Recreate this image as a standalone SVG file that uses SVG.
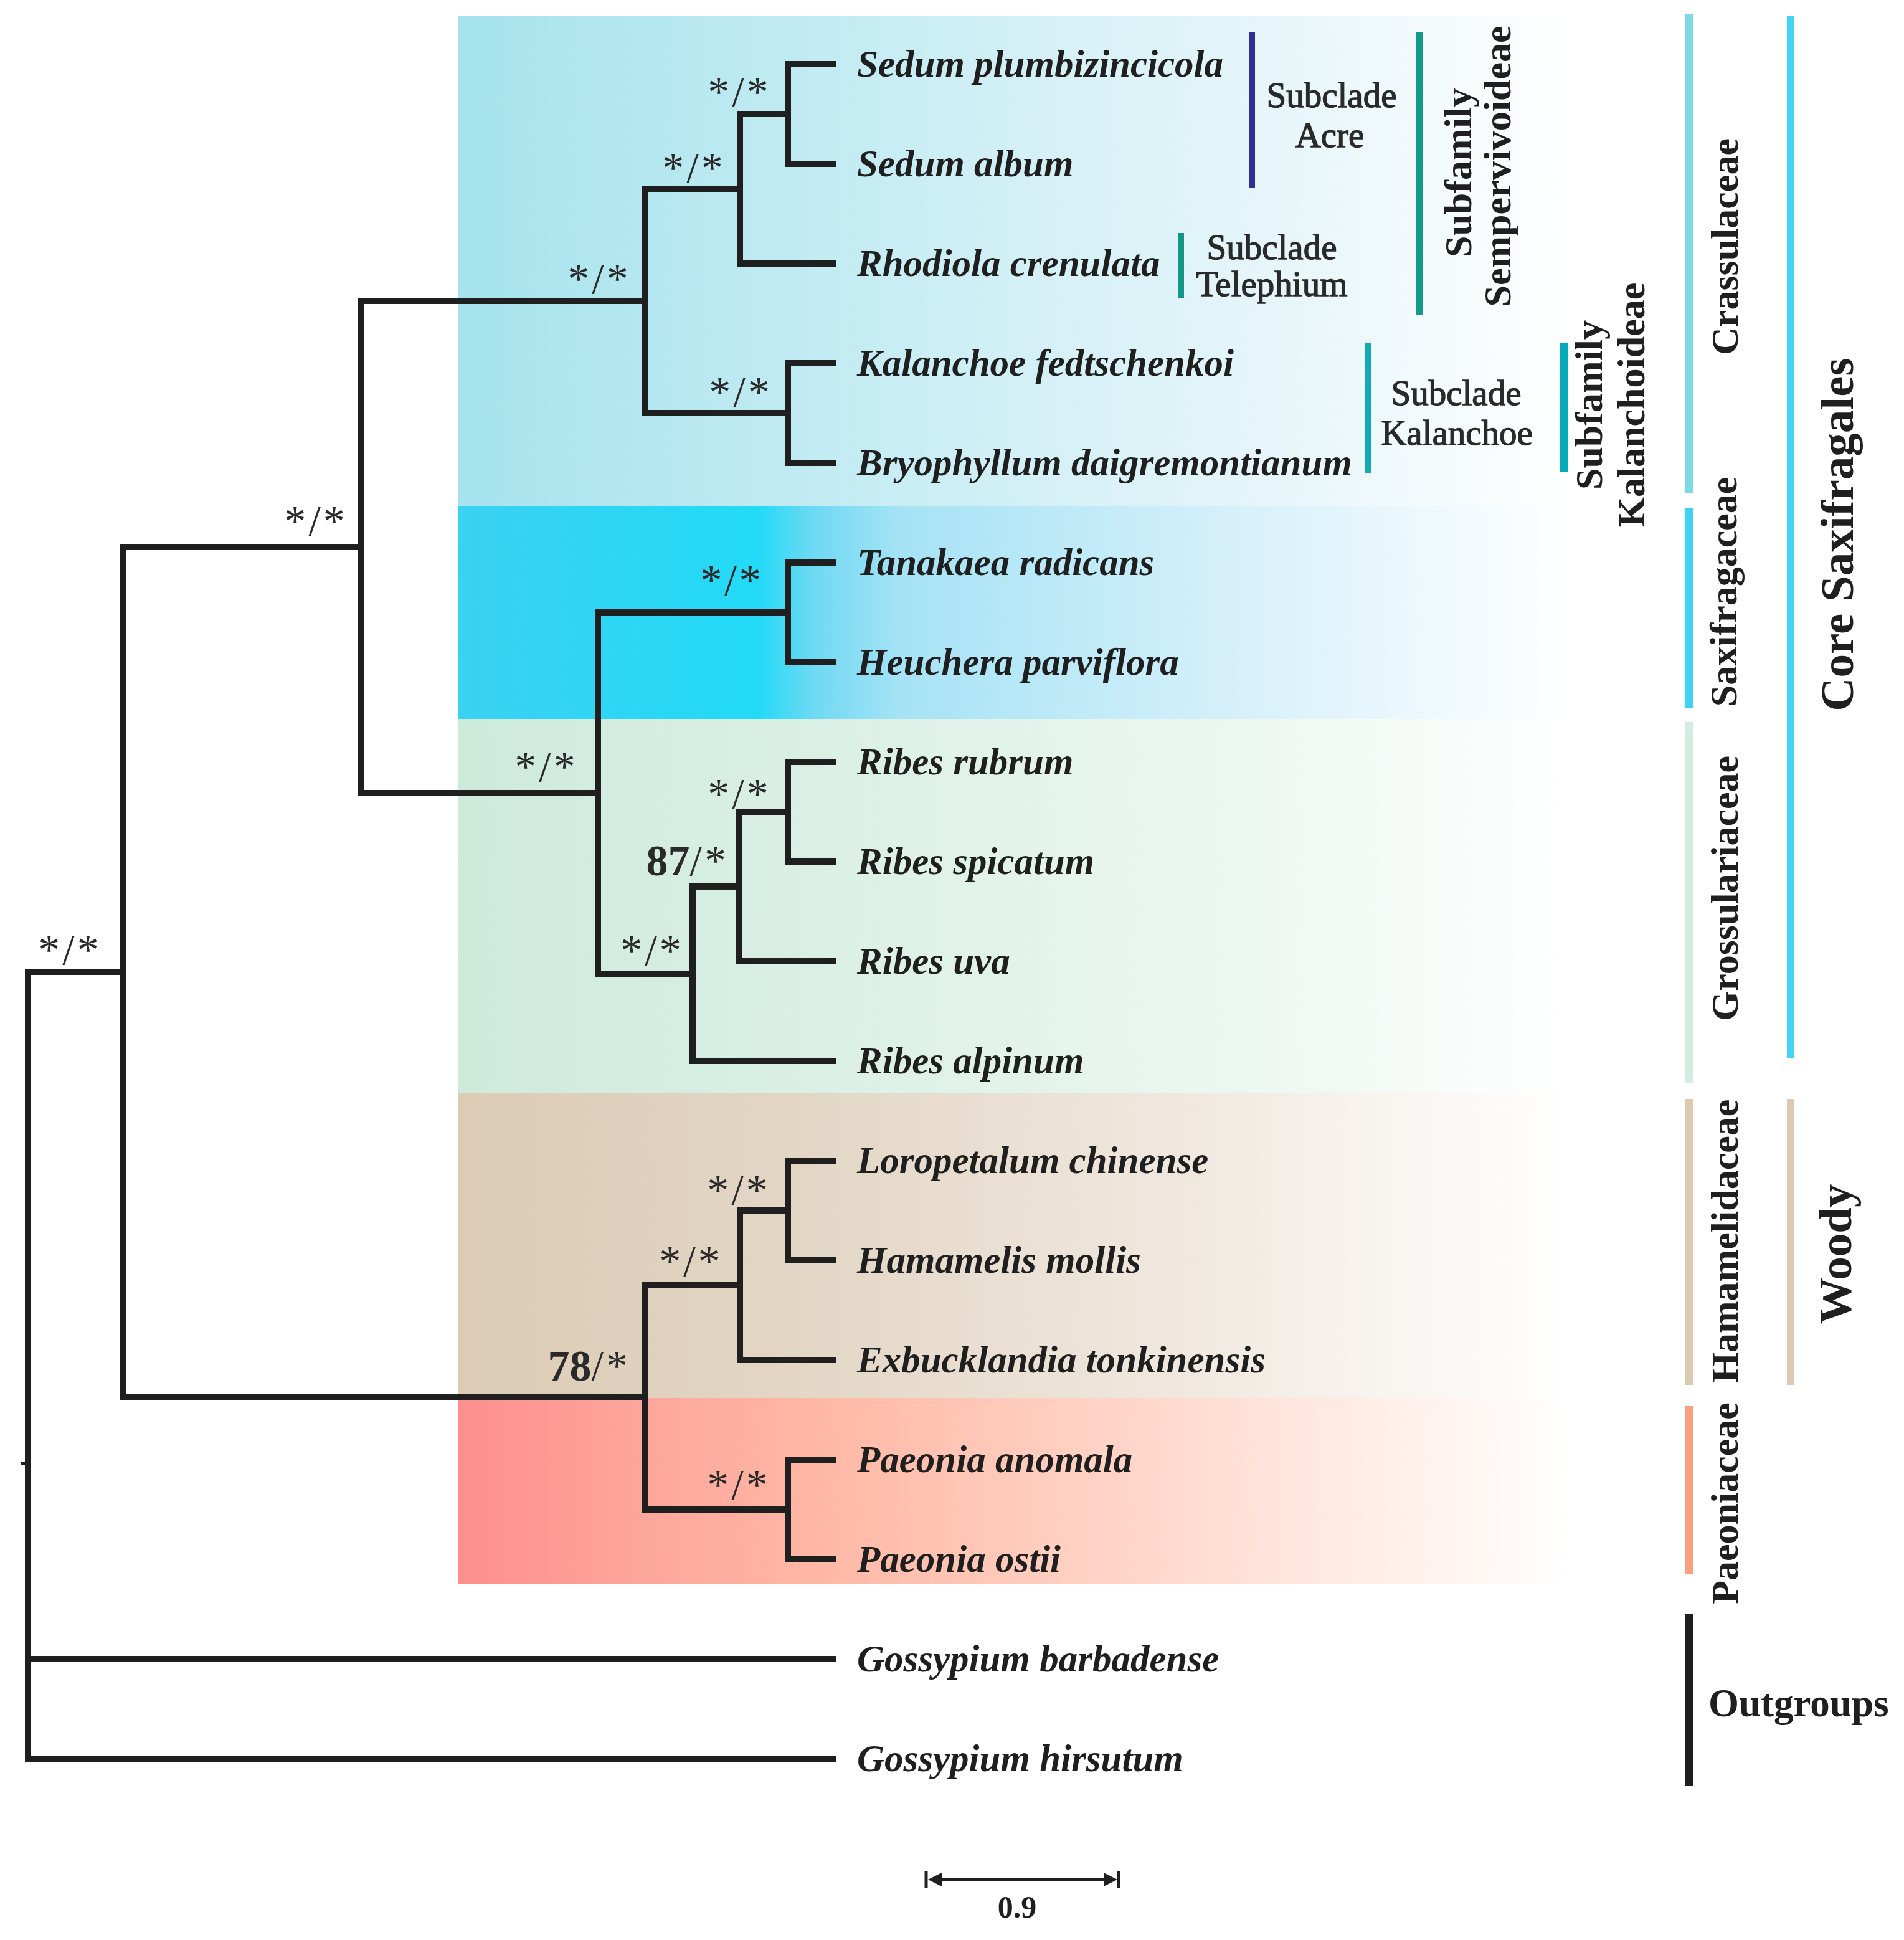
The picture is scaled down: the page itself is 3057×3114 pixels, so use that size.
<svg xmlns="http://www.w3.org/2000/svg" width="3057" height="3114" viewBox="0 0 3057 3114">
<defs>
<style>
.br{fill:none;stroke:#1f1f1f;stroke-width:10;stroke-linejoin:miter;stroke-linecap:butt}
.leaf{font-family:"Liberation Serif","Times New Roman",serif;font-size:61px;font-weight:bold;font-style:italic;fill:#1f1f1f}
.sup{font-family:"Liberation Serif","Times New Roman",serif;font-size:70px;fill:#2a2a2a;letter-spacing:4px}
.sub{font-family:"Liberation Serif","Times New Roman",serif;font-size:57px;fill:#2a2a2a;stroke:#2a2a2a;stroke-width:1.3px;text-anchor:middle}
.fam{font-family:"Liberation Serif","Times New Roman",serif;font-size:62px;font-weight:bold;fill:#1f1f1f;text-anchor:middle}
.big{font-size:75px}
</style>
<linearGradient id="gCr" gradientUnits="userSpaceOnUse" x1="735" y1="0" x2="2520" y2="0">
<stop offset="0" stop-color="#a6e3ed"/><stop offset="0.4" stop-color="#c9edf4"/><stop offset="0.75" stop-color="#e8f6fa"/><stop offset="1" stop-color="#ffffff"/>
</linearGradient>
<linearGradient id="gSx" gradientUnits="userSpaceOnUse" x1="735" y1="0" x2="2520" y2="0">
<stop offset="0" stop-color="#3bd1f2"/><stop offset="0.27" stop-color="#22daf7"/><stop offset="0.32" stop-color="#6fd9f3"/><stop offset="0.4" stop-color="#a6e3f5"/><stop offset="0.7" stop-color="#d6f0fa"/><stop offset="1" stop-color="#ffffff"/>
</linearGradient>
<linearGradient id="gGr" gradientUnits="userSpaceOnUse" x1="735" y1="0" x2="2520" y2="0">
<stop offset="0" stop-color="#cdeadb"/><stop offset="0.45" stop-color="#e0f2e9"/><stop offset="0.75" stop-color="#eff8f3"/><stop offset="1" stop-color="#ffffff"/>
</linearGradient>
<linearGradient id="gHa" gradientUnits="userSpaceOnUse" x1="735" y1="0" x2="2520" y2="0">
<stop offset="0" stop-color="#dccbb5"/><stop offset="0.35" stop-color="#e4d8c8"/><stop offset="0.65" stop-color="#f0e8df"/><stop offset="1" stop-color="#ffffff"/>
</linearGradient>
<linearGradient id="gPa" gradientUnits="userSpaceOnUse" x1="735" y1="0" x2="2520" y2="0">
<stop offset="0" stop-color="#fe8e8e"/><stop offset="0.15" stop-color="#fda49a"/><stop offset="0.33" stop-color="#ffb8a6"/><stop offset="0.6" stop-color="#ffd5c8"/><stop offset="0.8" stop-color="#ffebe4"/><stop offset="1" stop-color="#ffffff"/>
</linearGradient>
</defs>
<rect x="0" y="0" width="3057" height="3114" fill="#ffffff"/>
<g id="bands">
<rect id="band-crassulaceae" x="735" y="25" width="1785" height="788" fill="url(#gCr)"/>
<rect id="band-saxifragaceae" x="735" y="812" width="1785" height="343" fill="url(#gSx)"/>
<rect id="band-grossulariaceae" x="735" y="1154" width="1785" height="602" fill="url(#gGr)"/>
<rect id="band-hamamelidaceae" x="735" y="1755" width="1785" height="490" fill="url(#gHa)"/>
<rect id="band-paeoniaceae" x="735" y="2244" width="1785" height="298" fill="url(#gPa)"/>
</g>
<g id="connectors">
<path class="br" d="M198 1560 H45 V2823 H1342 M45 2663 H1342"/>
<path class="br" d="M34 2349 H45" style="stroke-width:6"/>
<path class="br" d="M579 878 H198 V2243 H1035"/>
<path class="br" d="M1036 483 H579 V1273 H960"/>
<path class="br" d="M1188 303 H1036 V663 H1265"/>
<path class="br" d="M1265 183 H1188 V423 H1342"/>
<path class="br" d="M1342 103 H1265 V263 H1342"/>
<path class="br" d="M1342 583 H1265 V743 H1342"/>
<path class="br" d="M1265 983 H960 V1563 H1112"/>
<path class="br" d="M1342 903 H1265 V1063 H1342"/>
<path class="br" d="M1187 1423 H1112 V1703 H1342"/>
<path class="br" d="M1265 1303 H1187 V1543 H1342"/>
<path class="br" d="M1342 1223 H1265 V1383 H1342"/>
<path class="br" d="M1188 2063 H1035 V2423 H1265"/>
<path class="br" d="M1265 1943 H1188 V2183 H1342"/>
<path class="br" d="M1342 1863 H1265 V2023 H1342"/>
<path class="br" d="M1342 2343 H1265 V2503 H1342"/>
</g>
<g id="leaves">
<g id="leaf-sedum-plumbizincicola"><text class="leaf" x="1376" y="123">Sedum plumbizincicola</text></g>
<g id="leaf-sedum-album"><text class="leaf" x="1376" y="283">Sedum album</text></g>
<g id="leaf-rhodiola-crenulata"><text class="leaf" x="1376" y="443">Rhodiola crenulata</text></g>
<g id="leaf-kalanchoe-fedtschenkoi"><text class="leaf" x="1376" y="603">Kalanchoe fedtschenkoi</text></g>
<g id="leaf-bryophyllum-daigremontianum"><text class="leaf" x="1376" y="763">Bryophyllum daigremontianum</text></g>
<g id="leaf-tanakaea-radicans"><text class="leaf" x="1376" y="923">Tanakaea radicans</text></g>
<g id="leaf-heuchera-parviflora"><text class="leaf" x="1376" y="1083">Heuchera parviflora</text></g>
<g id="leaf-ribes-rubrum"><text class="leaf" x="1376" y="1243">Ribes rubrum</text></g>
<g id="leaf-ribes-spicatum"><text class="leaf" x="1376" y="1403">Ribes spicatum</text></g>
<g id="leaf-ribes-uva"><text class="leaf" x="1376" y="1563">Ribes uva</text></g>
<g id="leaf-ribes-alpinum"><text class="leaf" x="1376" y="1723">Ribes alpinum</text></g>
<g id="leaf-loropetalum-chinense"><text class="leaf" x="1376" y="1883">Loropetalum chinense</text></g>
<g id="leaf-hamamelis-mollis"><text class="leaf" x="1376" y="2043">Hamamelis mollis</text></g>
<g id="leaf-exbucklandia-tonkinensis"><text class="leaf" x="1376" y="2203">Exbucklandia tonkinensis</text></g>
<g id="leaf-paeonia-anomala"><text class="leaf" x="1376" y="2363">Paeonia anomala</text></g>
<g id="leaf-paeonia-ostii"><text class="leaf" x="1376" y="2523">Paeonia ostii</text></g>
<g id="leaf-gossypium-barbadense"><text class="leaf" x="1376" y="2683">Gossypium barbadense</text></g>
<g id="leaf-gossypium-hirsutum"><text class="leaf" x="1376" y="2843">Gossypium hirsutum</text></g>
</g>
<g id="supports">
<g id="sup-sedum"><text class="sup" x="1187" y="171" text-anchor="middle">*/*</text></g>
<g id="sup-sedum-rhodiola"><text class="sup" x="1114" y="293" text-anchor="middle">*/*</text></g>
<g id="sup-crassulaceae"><text class="sup" x="962" y="471" text-anchor="middle">*/*</text></g>
<g id="sup-kalanchoe"><text class="sup" x="1189" y="653" text-anchor="middle">*/*</text></g>
<g id="sup-crass-saxi"><text class="sup" x="507" y="860" text-anchor="middle">*/*</text></g>
<g id="sup-saxifragaceae"><text class="sup" x="1175" y="955" text-anchor="middle">*/*</text></g>
<g id="sup-saxi-gross"><text class="sup" x="877" y="1254" text-anchor="middle">*/*</text></g>
<g id="sup-ribes-rs"><text class="sup" x="1187" y="1298" text-anchor="middle">*/*</text></g>
<g id="sup-ribes-rsu"><text class="sup" x="1170" y="1405" text-anchor="end"><tspan style="font-weight:bold;letter-spacing:0">87</tspan>/*</text></g>
<g id="sup-ribes"><text class="sup" x="1047" y="1549" text-anchor="middle">*/*</text></g>
<g id="sup-ingroup"><text class="sup" x="112" y="1548" text-anchor="middle">*/*</text></g>
<g id="sup-loro-hama"><text class="sup" x="1186" y="1934" text-anchor="middle">*/*</text></g>
<g id="sup-hamamelidaceae"><text class="sup" x="1109" y="2048" text-anchor="middle">*/*</text></g>
<g id="sup-woody"><text class="sup" x="1012" y="2216" text-anchor="end"><tspan style="font-weight:bold;letter-spacing:0">78</tspan>/*</text></g>
<g id="sup-paeonia"><text class="sup" x="1186" y="2407" text-anchor="middle">*/*</text></g>
</g>
<g id="clades">
<g id="clade-subclade-acre">
<rect x="2005" y="52" width="10" height="249" fill="#2e3192"/>
<text class="sub" x="2138" y="172">Subclade</text>
<text class="sub" x="2135" y="236">Acre</text>
</g>
<g id="clade-subclade-telephium">
<rect x="1891" y="374" width="10" height="104" fill="#139685"/>
<text class="sub" x="2042" y="416">Subclade</text>
<text class="sub" x="2042" y="475">Telephium</text>
</g>
<g id="clade-subfamily-sempervivoideae">
<rect x="2273" y="52" width="12" height="454" fill="#149a88"/>
<text class="fam" transform="translate(2362 277) rotate(-90)">Subfamily</text>
<text class="fam" transform="translate(2425 267) rotate(-90)">Sempervivoideae</text>
</g>
<g id="clade-subclade-kalanchoe">
<rect x="2192" y="551" width="10" height="209" fill="#15aab5"/>
<text class="sub" x="2338" y="650">Subclade</text>
<text class="sub" x="2339" y="714">Kalanchoe</text>
</g>
<g id="clade-subfamily-kalanchoideae">
<rect x="2505" y="551" width="12" height="207" fill="#05aab8"/>
<text class="fam" transform="translate(2572 650) rotate(-90)">Subfamily</text>
<text class="fam" transform="translate(2640 650) rotate(-90)">Kalanchoideae</text>
</g>
<g id="clade-crassulaceae">
<rect x="2706" y="23" width="12" height="769" fill="#7dd9e8"/>
<text class="fam" transform="translate(2790 396) rotate(-90)">Crassulaceae</text>
</g>
<g id="clade-saxifragaceae">
<rect x="2706" y="815" width="12" height="322" fill="#3dd3f7"/>
<text class="fam" transform="translate(2788 950) rotate(-90)">Saxifragaceae</text>
</g>
<g id="clade-grossulariaceae">
<rect x="2706" y="1159" width="12" height="580" fill="#d2eee0"/>
<text class="fam" transform="translate(2790 1426) rotate(-90)">Grossulariaceae</text>
</g>
<g id="clade-hamamelidaceae">
<rect x="2706" y="1764" width="12" height="459" fill="#dccab2"/>
<text class="fam" transform="translate(2790 1992) rotate(-90)">Hamamelidaceae</text>
</g>
<g id="clade-paeoniaceae">
<rect x="2706" y="2257" width="12" height="270" fill="#f9a07f"/>
<text class="fam" transform="translate(2790 2413) rotate(-90)">Paeoniaceae</text>
</g>
<g id="clade-outgroups">
<rect x="2706" y="2590" width="12" height="277" fill="#1f1f1f"/>
<text class="fam" x="2743" y="2755" style="text-anchor:start;font-size:63px">Outgroups</text>
</g>
<g id="clade-core-saxifragales">
<rect x="2869" y="25" width="12" height="1674" fill="#45d2f7"/>
<text class="fam big" transform="translate(2975 858) rotate(-90)">Core Saxifragales</text>
</g>
<g id="clade-woody">
<rect x="2869" y="1764" width="12" height="459" fill="#dccab2"/>
<text class="fam big" transform="translate(2972 2013) rotate(-90)">Woody</text>
</g>
</g>
<g id="scale-bar">
<line x1="1500" y1="3017" x2="1782" y2="3017" stroke="#1f1f1f" stroke-width="5"/>
<path d="M1490 3017 L1512 3006 L1512 3028 Z" fill="#1f1f1f"/>
<path d="M1794 3017 L1772 3006 L1772 3028 Z" fill="#1f1f1f"/>
<line x1="1487" y1="3003" x2="1487" y2="3031" stroke="#1f1f1f" stroke-width="5"/>
<line x1="1796" y1="3003" x2="1796" y2="3031" stroke="#1f1f1f" stroke-width="5"/>
<text x="1633" y="3078" text-anchor="middle" style="font-family:'Liberation Serif','Times New Roman',serif;font-size:50px;font-weight:bold;fill:#1f1f1f">0.9</text>
</g>
</svg>
